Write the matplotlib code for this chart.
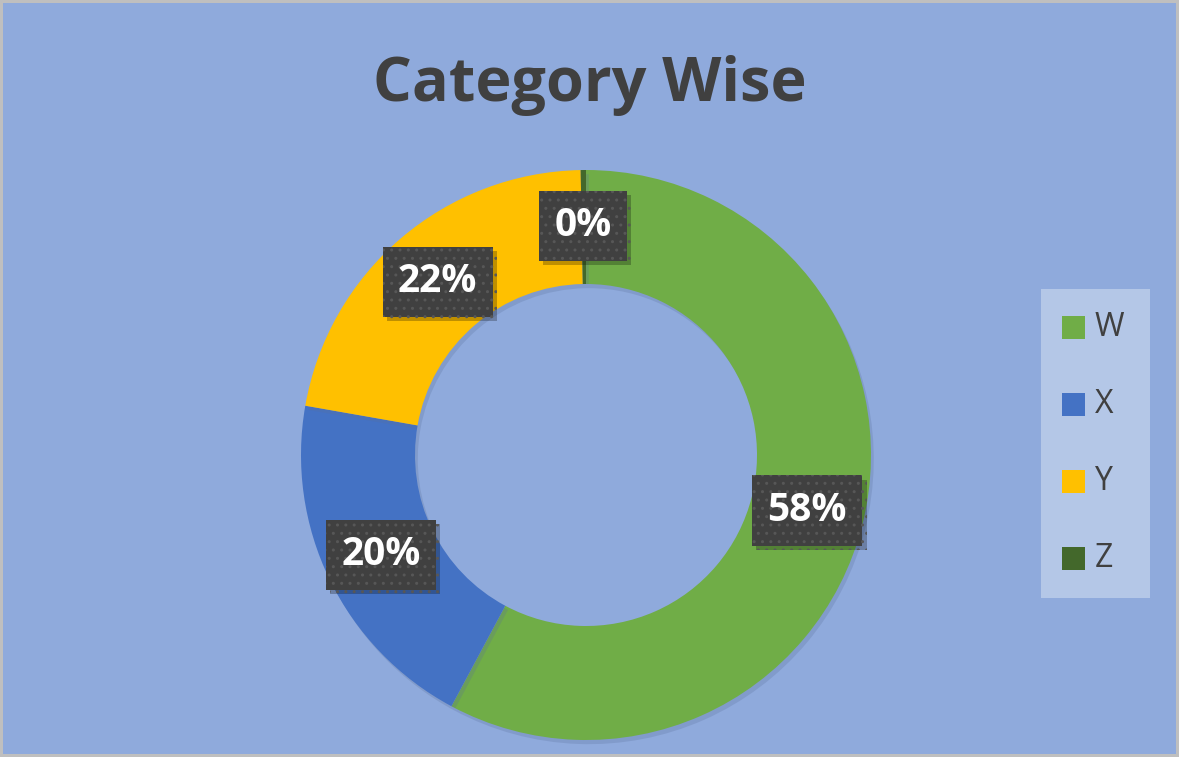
import numpy as np
import matplotlib
matplotlib.use("Agg")
import matplotlib.pyplot as plt
from matplotlib.patches import Rectangle
import matplotlib.patheffects as pe

categories = ["W", "X", "Y", "Z"]
values = [58.0, 20.0, 22.0, 0.3]
labels = ["58%", "20%", "22%", "0%"]
colors = ["#70AD47", "#4472C4", "#FFC000", "#43682B"]

W, H = 1179, 757
bg = "#8FAADC"

fig = plt.figure(figsize=(W / 100, H / 100), dpi=100)
fig.patch.set_facecolor("#BFBFBF")
ax = fig.add_axes([0, 0, 1, 1])

# chart area inside the grey border
ax.add_patch(Rectangle((3, 3), W - 6, H - 6, facecolor=bg, edgecolor="none", zorder=0))

cx, cy = 586, H - 455
r_out, r_in = 285, 171
width = r_out - r_in

wedges, _ = ax.pie(values, colors=colors, startangle=90, counterclock=False,
                   center=(cx, cy), radius=r_out, frame=True,
                   wedgeprops=dict(width=width, linewidth=0))
for w in wedges:
    w.set_zorder(2)
    w.set_path_effects([pe.SimplePatchShadow(offset=(2, -3), shadow_rgbFace="#5a6f99", alpha=0.25), pe.Normal()])
ax.set_xlim(0, W)
ax.set_ylim(0, H)
ax.set_aspect("equal")
ax.axis("off")

# data labels at the middle of the ring
r_mid = (r_out + r_in) / 2
total = sum(values)
start = 90
for v, lab in zip(values, labels):
    ang = np.deg2rad(start - v / total * 360 / 2)
    start -= v / total * 360
    x = cx + r_mid * np.cos(ang)
    y = cy + r_mid * np.sin(ang)
    if lab == "0%":
        y = H - 226
        x = 583
    t = ax.text(x, y, lab, ha="center", va="center", fontsize=28, fontweight="bold",
                color="white", family="Open Sans", zorder=5,
                bbox=dict(boxstyle="square,pad=0.4", facecolor="#404040",
                          edgecolor="#575757", linewidth=0, hatch=".."))
    t.get_bbox_patch().set_path_effects(
        [pe.SimplePatchShadow(offset=(3, -3), shadow_rgbFace="black", alpha=0.25), pe.Normal()])

# title
ax.text(590, H - 85, "Category Wise", ha="center", va="center", fontsize=44,
        fontweight="bold", color="#404040", family="Open Sans", zorder=5)

# legend
ax.add_patch(Rectangle((1041, H - 598), 109, 309, facecolor="#B4C7E7", edgecolor="none", zorder=3))
for i, (cat, col) in enumerate(zip(categories, colors)):
    ly = H - (327 + i * 77.3)
    ax.add_patch(Rectangle((1062, ly - 11.5), 23, 23, facecolor=col, edgecolor="none", zorder=4))
    ax.text(1095, ly, cat, ha="left", va="center", fontsize=23, color="#404040",
            family="Open Sans", zorder=4)

fig.savefig("out.png", dpi=100, facecolor=fig.get_facecolor())
